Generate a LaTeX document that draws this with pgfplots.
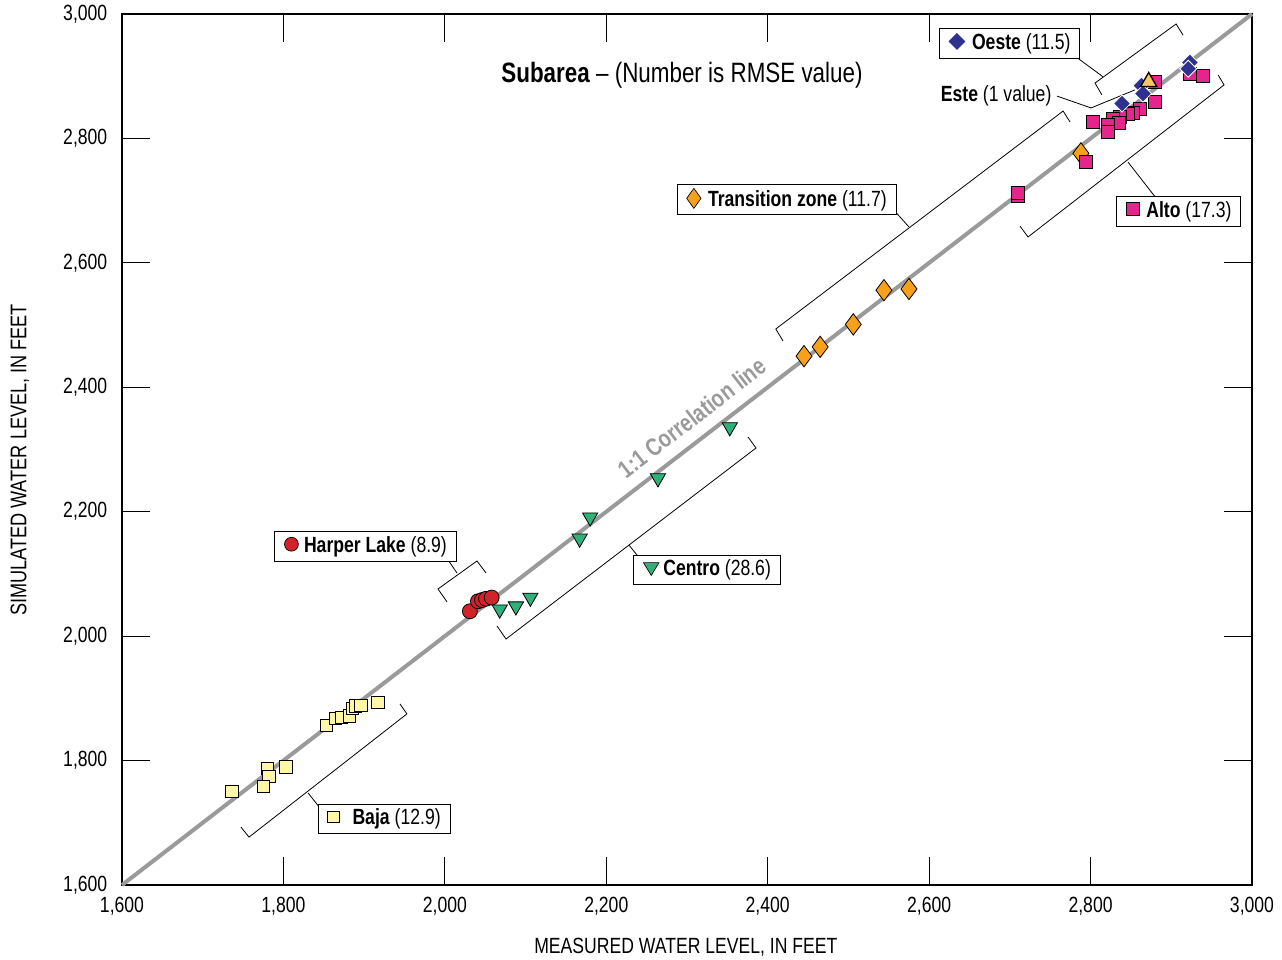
\documentclass[border=0pt]{standalone}
\usepackage{fontspec}
\setmainfont{Liberation Sans}[FakeStretch=0.8]
\usepackage{pgfplots}
\pgfplotsset{compat=1.18}

\definecolor{bajaC}{HTML}{FFF6A8}
\definecolor{harperC}{HTML}{D2232A}
\definecolor{centroC}{HTML}{2FB277}
\definecolor{transC}{HTML}{F7A11B}
\definecolor{esteC}{HTML}{FBC55F}
\definecolor{oesteC}{HTML}{2E3192}
\definecolor{altoC}{HTML}{E5258C}
\definecolor{lineC}{HTML}{9A9A9A}

\newcommand{\symsq}[2]{\tikz[baseline=-6pt]\draw[black,line width=0.5pt,fill=#1] (-#2,-#2) rectangle (#2,#2);}
\newcommand{\symci}[1]{\tikz[baseline=-6pt]\draw[black,line width=0.5pt,fill=#1] (0,0) circle (5.2pt);}
\newcommand{\symtri}[1]{\tikz[baseline=-6pt]\draw[black,line width=0.5pt,fill=#1] (-5.8pt,3.8pt)--(5.8pt,3.8pt)--(0,-5.8pt)--cycle;}
\newcommand{\symdia}[1]{\tikz[baseline=-6pt]\draw[black,line width=0.5pt,fill=#1] (0,-7.5pt)--(5.4pt,0)--(0,7.5pt)--(-5.4pt,0)--cycle;}
\newcommand{\symbdia}[1]{\tikz[baseline=-6pt]\fill[#1] (0,-6.3pt)--(6.3pt,0)--(0,6.3pt)--(-6.3pt,0)--cycle;}

\begin{document}
\begin{tikzpicture}[font=\fontsize{16.5pt}{19pt}\selectfont,
  box/.style={draw=black, line width=0.6pt, fill=white, inner xsep=7pt, inner ysep=2pt, minimum height=22pt},
  brk/.style={black, line width=0.6pt}]
\begin{axis}[
  scale only axis, width=847.5pt, height=653.25pt,
  xmin=1600, xmax=3000, ymin=1600, ymax=3000,
  xtick={1600,1800,...,3000}, ytick={1600,1800,...,3000},
  tick align=inside, major tick length=21pt,
  tick style={black, line width=0.6pt},
  axis line style={black, line width=0.8pt},
  /pgf/number format/assume math mode=true,
  /pgf/number format/1000 sep={,},
  ticklabel style={font=\fontsize{16.5pt}{19pt}\selectfont},
  xticklabel style={yshift=-5.5pt},
  yticklabel style={xshift=-7.5pt},
  xlabel={MEASURED WATER LEVEL, IN FEET},
  ylabel={SIMULATED WATER LEVEL, IN FEET},
  xlabel style={at={(axis description cs:0.499,-0.0712)}, anchor=center, font=\fontsize{16.5pt}{19pt}\selectfont},
  ylabel style={at={(axis description cs:-0.0903,0.488)}, anchor=center, font=\fontsize{17pt}{19pt}\selectfont},
  clip=false,
]
\coordinate (SW) at (rel axis cs:0,0);
\coordinate (NE) at (rel axis cs:1,1);
\coordinate (Loeste) at (axis cs:2699.6,2952.6);
\coordinate (Ltrans) at (axis cs:2423.3,2701.9);
\coordinate (Lalto) at (axis cs:2909,2682.6);
\coordinate (Lharper) at (axis cs:1901.7,2144);
\coordinate (Lcentro) at (axis cs:2324.8,2106.3);
\coordinate (Lbaja) at (axis cs:1924.6,1706);

% 1:1 line
\addplot[lineC, line width=3pt, no marks] coordinates {(1600,1600) (3000,3000)};

% Baja
\addplot[only marks, mark=square*, mark size=4.6pt, mark options={draw=black, line width=0.6pt, fill=bajaC}]
coordinates {(1736,1750) (1780,1788) (1782,1774) (1775,1758) (1803,1790) (1853,1857) (1864,1868) (1872,1869) (1882,1872) (1885,1884) (1889,1888) (1896,1889) (1917,1893)};

% Harper Lake
\addplot[only marks, mark=*, mark size=5.6pt, mark options={draw=black, line width=0.6pt, fill=harperC}]
coordinates {(2031,2040) (2041,2056) (2046,2058) (2051,2060) (2058,2062)};

% Centro
\addplot[only marks, mark=triangle*, mark size=6.6pt, mark options={draw=black, line width=0.6pt, fill=centroC, rotate=180}]
coordinates {(2068,2043) (2088,2048) (2106,2062) (2167,2157) (2180,2191) (2264,2254) (2353,2336)};

% Transition zone
\addplot[only marks, mark=diamond*, mark size=8pt, mark options={draw=black, line width=0.6pt, fill=transC}]
coordinates {(2445,2450) (2465,2465) (2506,2501) (2544,2556) (2575,2558) (2788,2776)};

% Alto
\addplot[only marks, mark=square*, mark size=4.9pt, mark options={draw=black, line width=0.6pt, fill=altoC}]
coordinates {(2939,2900) (2923,2903) (2880,2891) (2880,2859) (2861,2847) (2853,2841) (2846,2839) (2836,2835) (2828,2832) (2803,2827) (2835,2825) (2822,2822) (2822,2810) (2794,2763) (2710,2708) (2710,2713)};

% Oeste
\addplot[only marks, mark=square*, mark size=4.5pt, mark options={draw=white, line width=0.6pt, fill=oesteC, rotate=45}]
coordinates {(2923,2922) (2921,2912) (2863,2885) (2865,2872) (2839,2856)};

% Este
\addplot[only marks, mark=triangle*, mark size=7pt, mark options={draw=black, line width=1pt, fill=esteC}]
coordinates {(2872,2891)};

% brackets
\draw[brk] (axis cs:2814,2870) -- (axis cs:2805.5,2889) -- (axis cs:2906,2984) -- (axis cs:2914.6,2966);
\draw[brk] (axis cs:2782,2931) -- (axis cs:2815.5,2899);
\draw[brk] (axis cs:2758.5,2868) -- (axis cs:2800.6,2849) -- (axis cs:2855,2878);
\draw[brk] (axis cs:2419,2474.4) -- (axis cs:2410,2493.7) -- (axis cs:2766,2844) -- (axis cs:2774.5,2826.5);
\draw[brk] (axis cs:2555,2686.6) -- (axis cs:2575,2657.7);
\draw[brk] (axis cs:2712.6,2659) -- (axis cs:2722.5,2641.6) -- (axis cs:2965.4,2886) -- (axis cs:2958,2902);
\draw[brk] (axis cs:2846.4,2762) -- (axis cs:2880,2706);
\draw[brk] (axis cs:2002.7,2055) -- (axis cs:1991.5,2075.8) -- (axis cs:2039.8,2120.8) -- (axis cs:2051,2101.5);
\draw[brk] (axis cs:2004,2122.4) -- (axis cs:2015,2101.5);
\draw[brk] (axis cs:2064.6,2016.3) -- (axis cs:2075.8,1995.4) -- (axis cs:2385.5,2302.4) -- (axis cs:2375.6,2320.1);
\draw[brk] (axis cs:2228,2146.5) -- (axis cs:2243,2122.4);
\draw[brk] (axis cs:1747.4,1693) -- (axis cs:1757.4,1677) -- (axis cs:1953,1875) -- (axis cs:1944.4,1891);
\draw[brk] (axis cs:1830.5,1748) -- (axis cs:1845.3,1723.8);

\node at (axis cs:2683,2868) {\fontsize{16.5pt}{19pt}\selectfont\textbf{Este} (1 value)};
\node at (axis cs:2293.8,2902) {\fontsize{21pt}{24pt}\selectfont\textbf{Subarea} -- (Number is RMSE value)};
\node[rotate=37.63, text=lineC, font=\bfseries\fontsize{18.5pt}{21pt}\selectfont] at (axis cs:2306,2351) {1:1 Correlation line};
\end{axis}
% label boxes with key symbols
\node[box] at (Loeste) {\symbdia{oesteC}\hspace{5pt}\textbf{Oeste} (11.5)};
\node[box] at (Ltrans) {\symdia{transC}\hspace{5pt}\textbf{Transition zone} (11.7)};
\node[box] at (Lalto) {\symsq{altoC}{5pt}\hspace{5pt}\textbf{Alto} (17.3)};
\node[box] at (Lharper) {\symci{harperC}\hspace{4pt}\textbf{Harper Lake} (8.9)};
\node[box] at (Lcentro) {\symtri{centroC}\hspace{3pt}\textbf{Centro} (28.6)};
\node[box] at (Lbaja) {\symsq{bajaC}{4.2pt}\hspace{10pt}\textbf{Baja} (12.9)};
\pgfresetboundingbox
\path[use as bounding box] ([xshift=-91.5pt,yshift=-56.25pt]SW) rectangle ([xshift=22.5pt,yshift=10.5pt]NE);
\end{tikzpicture}
\end{document}
